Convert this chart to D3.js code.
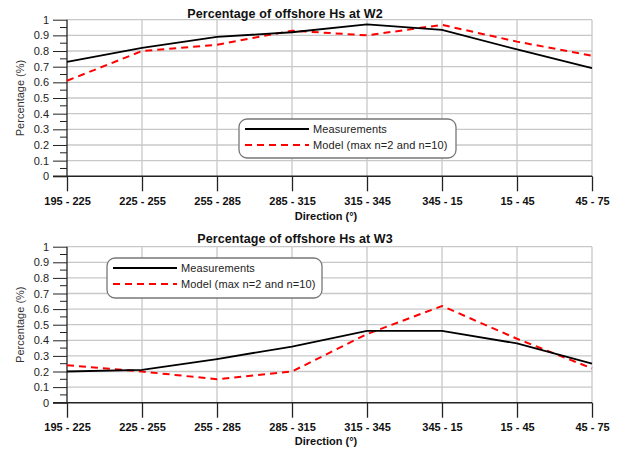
<!DOCTYPE html>
<html><head><meta charset="utf-8">
<script src="https://cdn.jsdelivr.net/npm/d3@7"></script>
<style>body{margin:0;background:#fff}svg{display:block}text{font-family:"Liberation Sans",Arial,sans-serif}</style>
</head><body><svg id="c" width="621" height="450"></svg>
<script>
const categories = ["195 - 225","225 - 255","255 - 285","285 - 315","315 - 345","345 - 15","15 - 45","45 - 75"];
const w2Measurements = [0.73,0.82,0.89,0.92,0.97,0.935,0.81,0.69];
const w2Model = [0.61,0.80,0.84,0.93,0.90,0.967,0.86,0.77];
const w3Measurements = [0.20,0.21,0.28,0.36,0.46,0.46,0.38,0.25];
const w3Model = [0.24,0.20,0.15,0.20,0.44,0.62,0.41,0.22];
const yTicks = [0,0.1,0.2,0.3,0.4,0.5,0.6,0.7,0.8,0.9,1];
const seriesNames = ["Measurements","Model (max n=2 and n=10)"];
const titles = ["Percentage of offshore Hs at W2","Percentage of offshore Hs at W3"];

const svg = d3.select("#c");

function chart(cfg){
  const g = svg.append("g");
  const x = d3.scalePoint().domain(categories).range([67,592]);
  const y = d3.scaleLinear().domain([0,1]).range([cfg.y0,cfg.y1]);
  // grid
  g.append("g").selectAll("line").data(yTicks.slice(1)).join("line")
    .attr("x1",67).attr("x2",592).attr("y1",d=>y(d)).attr("y2",d=>y(d))
    .attr("stroke","#c8c8c8").attr("stroke-width",1.3);
  g.append("g").selectAll("line").data(categories.slice(1)).join("line")
    .attr("x1",d=>x(d)).attr("x2",d=>x(d)).attr("y1",y(1)).attr("y2",y(0))
    .attr("stroke","#c8c8c8").attr("stroke-width",1.3);
  // y axis
  const ya = d3.axisLeft(y).tickValues(yTicks).tickSize(14).tickFormat(d=>d===0||d===1?String(d):d3.format(".1f")(d));
  const yg = g.append("g").attr("transform","translate(67,0)").call(ya);
  yg.select(".domain").remove();
  yg.selectAll(".tick line").attr("stroke","#222").attr("stroke-width",1);
  yg.selectAll(".tick text").attr("x",-18).attr("font-size",11).attr("fill","#222").attr("font-family","Liberation Sans, Arial");
  // minor ticks
  g.append("g").selectAll("line").data(d3.range(0.05,1,0.1)).join("line")
    .attr("x1",60).attr("x2",67).attr("y1",d=>y(d)).attr("y2",d=>y(d))
    .attr("stroke","#222");
  g.append("line").attr("x1",67).attr("x2",67).attr("y1",y(1)).attr("y2",y(0)).attr("stroke","#222").attr("stroke-width",1.3);
  // x axis
  const xa = d3.axisBottom(x).tickSize(15).tickPadding(6);
  const xg = g.append("g").attr("transform",`translate(0,${y(0)})`).call(xa);
  xg.select(".domain").remove();
  xg.selectAll(".tick line").attr("stroke","#222").attr("stroke-width",1.3);
  xg.selectAll(".tick text").attr("font-size",11).attr("font-weight","bold").attr("fill","#111").attr("font-family","Liberation Sans, Arial");
  g.append("line").attr("x1",53).attr("x2",592).attr("y1",y(0)).attr("y2",y(0)).attr("stroke","#222").attr("stroke-width",1.5);
  // lines
  const line = d3.line().x((d,i)=>x(categories[i])).y(d=>y(d));
  g.append("path").datum(cfg.mod).attr("d",line).attr("fill","none").attr("stroke","#ff0000").attr("stroke-width",2).attr("stroke-dasharray","7,5");
  g.append("path").datum(cfg.meas).attr("d",line).attr("fill","none").attr("stroke","#000").attr("stroke-width",1.8);
  // title
  g.append("text").attr("x",cfg.titleX).attr("y",cfg.titleY).attr("text-anchor","middle").attr("font-size",12.5).attr("font-weight","bold").attr("letter-spacing",0.1).attr("fill","#111").text(cfg.title);
  g.append("text").attr("x",326).attr("y",cfg.dirY).attr("text-anchor","middle").attr("font-size",11).attr("font-weight","bold").attr("fill","#111").text("Direction (°)");
  g.append("text").attr("transform",`translate(24,${(y(0)+y(1))/2}) rotate(-90)`).attr("text-anchor","middle").attr("font-size",11).attr("fill","#333").text("Percentage (%)");
  // legend
  const L = cfg.leg;
  const lg = g.append("g");
  lg.append("rect").attr("x",L.x).attr("y",L.y).attr("width",L.w).attr("height",L.h).attr("rx",8).attr("fill","#fff").attr("stroke","#777").attr("stroke-width",1.3);
  lg.append("line").attr("x1",L.x+6).attr("x2",L.x+70).attr("y1",L.y+10).attr("y2",L.y+10).attr("stroke","#000").attr("stroke-width",1.8);
  lg.append("line").attr("x1",L.x+6).attr("x2",L.x+70).attr("y1",L.y+26).attr("y2",L.y+26).attr("stroke","#ff0000").attr("stroke-width",2).attr("stroke-dasharray","7,5");
  lg.selectAll("text.l").data(seriesNames).join("text").attr("class","l")
    .attr("x",L.x+74).attr("y",(d,i)=>L.y+14+i*16).attr("font-size",11).attr("letter-spacing",0.1).attr("fill","#222").text(d=>d);
}
chart({y0:176.3,y1:19.7,meas:w2Measurements,mod:w2Model,title:titles[0],titleX:285,titleY:18,dirY:220,leg:{x:239,y:119,w:217,h:39}});
chart({y0:402.7,y1:246.7,meas:w3Measurements,mod:w3Model,title:titles[1],titleX:295,titleY:243,dirY:445,leg:{x:107,y:258,w:215,h:40}});
</script></body></html>
